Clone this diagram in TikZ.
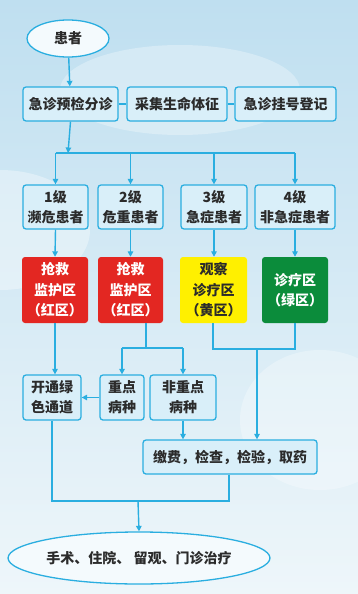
\documentclass[tikz,border=0pt]{standalone}
\usepackage{fontspec}
\setmainfont{Noto Sans CJK SC}
\usetikzlibrary{arrows.meta,shapes.geometric}
\definecolor{ln}{HTML}{2AAEE0}
\definecolor{bxfill}{HTML}{D9EFF9}
\definecolor{skytop}{HTML}{BFDFF0}
\definecolor{skybot}{HTML}{EEF6FA}
\definecolor{redz}{HTML}{E32722}
\definecolor{yelz}{HTML}{FFF000}
\definecolor{grnz}{HTML}{0B8C3B}
\definecolor{txt}{HTML}{2B2B2B}
\tikzset{
  cbox/.style={draw=ln, line width=1.3pt, fill=bxfill, rounded corners=3pt, inner sep=0pt, text=txt, font=\fontsize{14}{20}\selectfont\bfseries, align=center},
  zbox/.style={rounded corners=3pt, inner sep=0pt, font=\fontsize{14}{20.5}\selectfont\bfseries, align=center},
  oval/.style={ellipse, draw=ln, line width=1.3pt, fill=white!70!bxfill, inner sep=0pt, text=txt, font=\fontsize{14}{20}\selectfont\bfseries},
  conn/.style={draw=ln, line width=1.4pt},
  arr/.style={conn, -{Triangle[length=5.5pt,width=5.5pt]}}
}
\begin{document}
\begin{tikzpicture}[x=1pt,y=-1pt]
\useasboundingbox (0,0) rectangle (358,594);
\shade[top color=skytop, bottom color=skybot] (0,0) rectangle (358,594);
% clouds
\fill[white, opacity=0.35] (0,230) ellipse (90 and 60);
\fill[white, opacity=0.3] (180,90) ellipse (120 and 45);
\fill[white, opacity=0.3] (320,420) ellipse (80 and 70);

% nodes
\node[oval, minimum width=82pt, minimum height=37pt] (pt) at (68,38.5) {患者};
\node[cbox, minimum width=95pt, minimum height=34pt] (yj) at (70.5,104) {急诊预检分诊};
\node[cbox, minimum width=100pt, minimum height=34pt] (cj) at (177,104) {采集生命体征};
\node[cbox, minimum width=101pt, minimum height=34pt] (gh) at (285.5,104) {急诊挂号登记};

\node[cbox, minimum width=65pt, minimum height=44pt] (l1) at (55.5,207) {1级\\濒危患者};
\node[cbox, minimum width=65pt, minimum height=44pt] (l2) at (130.5,207) {2级\\危重患者};
\node[cbox, minimum width=66pt, minimum height=44pt] (l3) at (214,207) {3级\\急症患者};
\node[cbox, minimum width=80pt, minimum height=44pt] (l4) at (295,207) {4级\\非急症患者};

\node[zbox, fill=redz, text=white, minimum width=66pt, minimum height=66pt] (r1) at (55,290) {抢救\\监护区\\（红区）};
\node[zbox, fill=redz, text=white, minimum width=65pt, minimum height=66pt] (r2) at (130.5,290) {抢救\\监护区\\（红区）};
\node[zbox, fill=yelz, text=txt, minimum width=67pt, minimum height=66pt] (y3) at (213.5,290) {观察\\诊疗区\\（黄区）};
\node[zbox, fill=grnz, text=white, minimum width=66pt, minimum height=66pt] (g4) at (295,290) {诊疗区\\（绿区）};

\node[cbox, minimum width=58pt, minimum height=45pt] (kt) at (52,397.5) {开通绿\\色通道};
\node[cbox, minimum width=44pt, minimum height=45pt] (zd) at (122,397.5) {重点\\病种};
\node[cbox, minimum width=66pt, minimum height=45pt] (fz) at (183,397.5) {非重点\\病种};

\node[cbox, minimum width=174pt, minimum height=34pt] (jf) at (230,457) {缴费，检查，检验，取药};

\node[oval, minimum width=216pt, minimum height=52pt] (end) at (139,558) {手术、住院、 留观、门诊治疗};

\coordinate (j1) at (68,153);
\coordinate (j2) at (146,348);
\coordinate (j3) at (257,349);
\coordinate (j4) at (138,501);

% connectors
\draw[arr] (pt) -- (yj);
\draw[conn] (yj) -- (cj);
\draw[conn] (cj) -- (gh);
\draw[arr] (yj.south) -- (j1);
\draw[conn] (l1.north |- j1) -- (l4.north |- j1);
\draw[arr] (l1.north |- j1) -- (l1.north);
\draw[arr] (l2.north |- j1) -- (l2.north);
\draw[arr] (l3.north |- j1) -- (l3.north);
\draw[arr] (l4.north |- j1) -- (l4.north);

\draw[arr] (l1.south) -- (r1.north);
\draw[arr] (l2.south) -- (r2.north);
\draw[arr] (l3.south) -- (l3.south |- y3.north);
\draw[arr] (l4.south) -- (g4.north);

\draw[arr] (r1.south) -- (r1.south |- kt.north);
\draw[conn] (r2.south -| j2) -- (j2);
\draw[conn] (zd.north |- j2) -- (fz.north |- j2);
\draw[arr] (zd.north |- j2) -- (zd.north);
\draw[arr] (fz.north |- j2) -- (fz.north);
\draw[arr] (zd.west) -- (kt.east);

\draw[conn] (y3.south -| 213,0) -- (213,349) -- (g4.south |- j3) -- (g4.south);
\draw[arr] (j3) -- (j3 |- jf.north);
\draw[arr] (fz.south) -- (fz.south |- jf.north);

\draw[conn] (jf.south -| 229,0) -- (229,501) -- (kt.south |- j4) -- (kt.south);
\draw[arr] (j4) -- (end.north);
\end{tikzpicture}
\end{document}
